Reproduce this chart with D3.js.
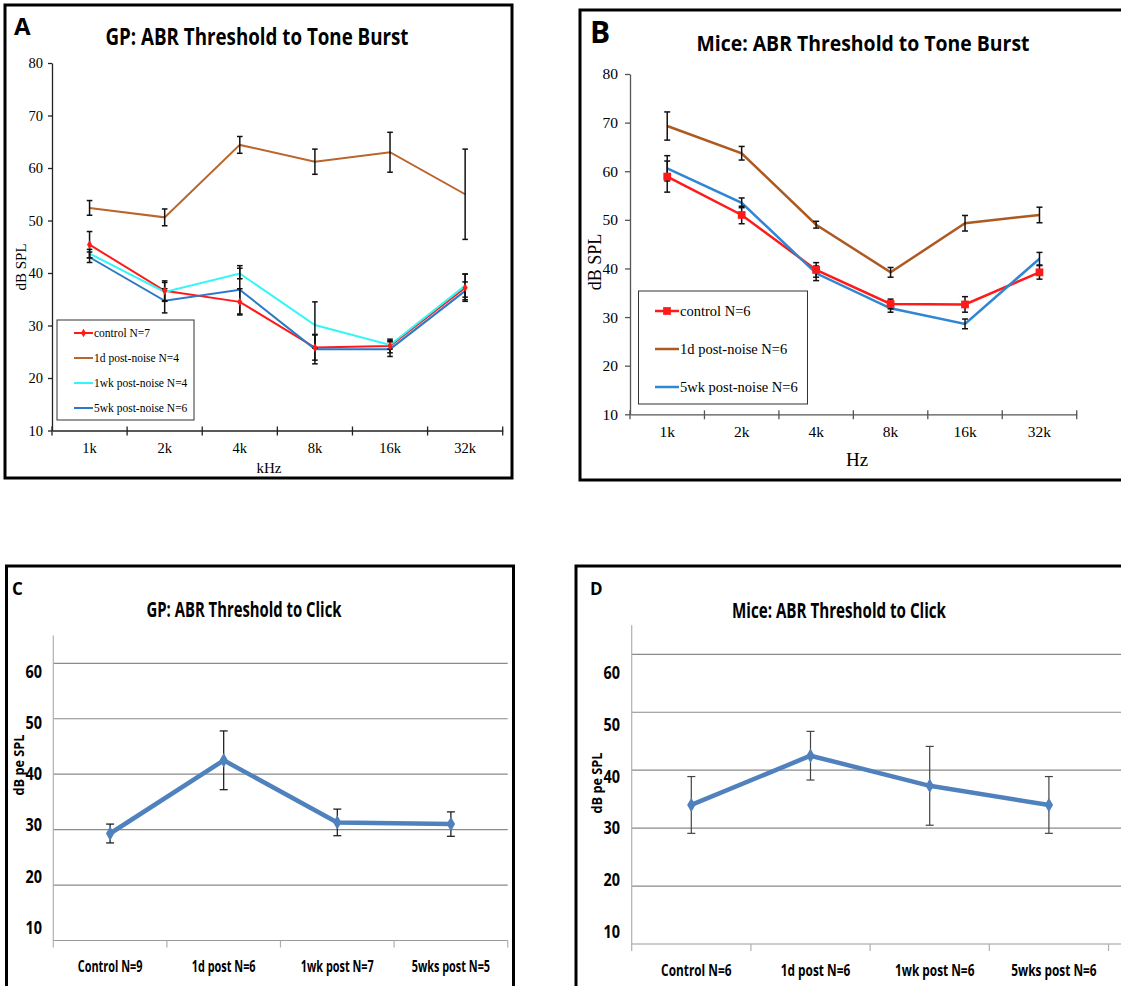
<!DOCTYPE html>
<html lang="en">
<head>
<meta charset="UTF-8" />
<script src="https://d3js.org/d3.v7.min.js"></script>
<title>ABR thresholds</title>
<style>
  body { margin: 0; background: #fff; }
  svg { display: block; }
</style>
</head>
<body>
<svg id="fig" width="1121" height="986"></svg>
<script>
// ---- data ----
const freqs = ['1k', '2k', '4k', '8k', '16k', '32k'];
const toneTicks = [10, 20, 30, 40, 50, 60, 70, 80];
const clickTicks = [10, 20, 30, 40, 50, 60];

// A: guinea pig, tone burst
const gpLabels = ['control N=7', '1d post-noise N=4', '1wk post-noise N=4', '5wk post-noise N=6'];
const gpControl = [45.4, 36.6, 34.5, 25.8, 26.1, 37.2];
const gpControlErr = [2.5, 1.9, 2.5, 2.4, 1.3, 2.6];
const gp1d = [52.4, 50.6, 64.4, 61.2, 63.0, 55.0];
const gp1dErr = [1.4, 1.6, 1.6, 2.4, 3.8, 8.6];
const gp1wk = [43.7, 36.4, 39.9, 30.1, 26.3, 37.6];
const gp1wkErr = [0.8, 1.8, 1.0, 4.4, 0.8, 2.2];
const gp5wk = [43.0, 34.7, 36.8, 25.5, 25.5, 36.6];
const gp5wkErr = [1.0, 2.3, 4.6, 2.8, 1.4, 1.7];

// B: mice, tone burst
const miceLabels = ['control N=6', '1d post-noise N=6', '5wk post-noise N=6'];
const miceControl = [58.9, 51.0, 39.7, 32.7, 32.6, 39.2];
const miceControlErr = [3.2, 1.8, 1.5, 1.0, 1.6, 1.4];
const mice1d = [69.3, 63.7, 49.0, 39.2, 49.3, 51.0];
const mice1dErr = [2.9, 1.4, 0.7, 1.0, 1.6, 1.6];
const mice5wk = [60.6, 53.5, 39.0, 31.8, 28.6, 42.0];
const mice5wkErr = [2.6, 1.0, 1.5, 0.8, 1.0, 1.3];

// C / D: click
const gpClickGroups = ['Control N=9', '1d post N=6', '1wk post N=7', '5wks post N=5'];
const gpClick = [29.3, 42.5, 31.3, 31.0];
const gpClickErr = [1.7, 5.3, 2.4, 2.2];
const miceClickGroups = ['Control N=6', '1d post  N=6', '1wk post N=6', '5wks post N=6'];
const miceClick = [34.0, 42.5, 37.3, 34.0];
const miceClickErr = [4.9, 4.2, 6.8, 4.9];

const sans = "'Open Sans', 'Noto Sans', sans-serif";
const serif = "'Liberation Serif', 'DejaVu Serif', serif";

const svg = d3.select('#fig');

function frame(f) {
  svg.append('rect')
    .attr('x', f.x).attr('y', f.y).attr('width', f.w).attr('height', f.h)
    .attr('fill', 'none').attr('stroke', '#000').attr('stroke-width', 3);
}

function heading(p) {
  svg.append('text')
    .attr('x', p.letterX).attr('y', p.letterY)
    .attr('font-family', sans).attr('font-weight', 700).attr('font-size', p.letterSize)
    .text(p.letter);
  svg.append('text')
    .attr('x', p.titleX).attr('y', p.titleY)
    .attr('text-anchor', 'middle')
    .attr('font-family', sans).attr('font-weight', 700).attr('font-size', p.titleSize)
    .attr('textLength', p.titleW).attr('lengthAdjust', 'spacingAndGlyphs')
    .text(p.title);
}

// squeeze a text horizontally, like the narrow face of the original
function narrow(sel, k) {
  sel.each(function () {
    const w = this.getComputedTextLength();
    d3.select(this).attr('textLength', w * k).attr('lengthAdjust', 'spacingAndGlyphs');
  });
}

const marker = {
  diamond: d3.symbol().type(d3.symbolDiamond),
  square: d3.symbol().type(d3.symbolSquare),
};

// ---- tone burst panels (A, B) ----
function tonePanel(p) {
  frame(p.frame);
  heading(p);

  const x = d3.scaleBand().domain(freqs).range([p.x0, p.x1]);
  const y = d3.scaleLinear().domain([10, 80]).range([p.yBot, p.yTop]);
  const cx = f => x(f) + x.bandwidth() / 2;
  const g = svg.append('g');

  const yAxisG = g.append('g')
    .attr('transform', `translate(${p.x0},0)`)
    .call(d3.axisLeft(y).tickValues(toneTicks).tickSize(p.tick).tickPadding(p.pad).tickSizeOuter(0));
  yAxisG.select('.domain').attr('stroke', p.axisColor).attr('stroke-width', 1.3);
  yAxisG.selectAll('.tick line').attr('stroke', p.axisColor).attr('stroke-width', 1.3);
  yAxisG.selectAll('.tick text')
    .attr('font-family', serif).attr('font-size', p.tickFont).attr('fill', '#000');

  const xAxisG = g.append('g')
    .attr('transform', `translate(0,${p.yBot})`)
    .call(d3.axisBottom(x).tickSize(0).tickPadding(p.xPad).tickSizeOuter(0));
  xAxisG.select('.domain').attr('stroke', p.axisColor).attr('stroke-width', 1.3);
  xAxisG.selectAll('.tick text')
    .attr('font-family', serif).attr('font-size', p.tickFont).attr('fill', '#000');

  // ticks on the category boundaries
  g.selectAll('line.bound').data(d3.range(freqs.length + 1)).join('line')
    .attr('class', 'bound')
    .attr('x1', i => p.x0 + i * x.step()).attr('x2', i => p.x0 + i * x.step())
    .attr('y1', p.yBot - 4).attr('y2', p.yBot + 5)
    .attr('stroke', p.axisColor).attr('stroke-width', 1.3);

  g.append('text')
    .attr('x', p.xLabelX).attr('y', p.xLabelY).attr('text-anchor', 'middle')
    .attr('font-family', serif).attr('font-size', p.xLabelFont)
    .text(p.xLabel);
  g.append('text')
    .attr('transform', `translate(${p.yLabelX},${p.yLabelY}) rotate(-90)`)
    .attr('text-anchor', 'middle')
    .attr('font-family', serif).attr('font-size', p.yLabelFont)
    .text('dB SPL');

  const line = d3.line().x((d, i) => cx(freqs[i])).y(d => y(d));

  p.series.forEach(s => {
    g.append('path').datum(s.values)
      .attr('d', line).attr('fill', 'none')
      .attr('stroke', s.color).attr('stroke-width', p.lineW);
  });

  // error bars
  p.series.forEach(s => {
    const eb = g.append('g');
    s.values.forEach((v, i) => {
      const xx = cx(freqs[i]);
      const e = s.err[i];
      eb.append('line').attr('x1', xx).attr('x2', xx)
        .attr('y1', y(v - e)).attr('y2', y(v + e))
        .attr('stroke', '#111').attr('stroke-width', 1.5);
      [v - e, v + e].forEach(c => {
        eb.append('line').attr('x1', xx - p.cap).attr('x2', xx + p.cap)
          .attr('y1', y(c)).attr('y2', y(c))
          .attr('stroke', '#111').attr('stroke-width', 1.5);
      });
    });
  });

  // markers
  p.series.forEach(s => {
    if (!s.marker) return;
    g.selectAll(null).data(s.values).join('path')
      .attr('d', marker[s.marker].size(s.size))
      .attr('transform', (d, i) => `translate(${cx(freqs[i])},${y(d)})`)
      .attr('fill', s.color);
  });

  // legend
  const L = p.legend;
  g.append('rect')
    .attr('x', L.x).attr('y', L.y).attr('width', L.w).attr('height', L.h)
    .attr('fill', '#fff').attr('stroke', '#333').attr('stroke-width', 1);
  p.series.forEach((s, i) => {
    const ly = L.y + L.first + i * L.gap;
    g.append('line')
      .attr('x1', L.lx0).attr('x2', L.lx1).attr('y1', ly).attr('y2', ly)
      .attr('stroke', s.color).attr('stroke-width', p.lineW);
    if (s.marker) {
      g.append('path').attr('d', marker[s.marker].size(s.size))
        .attr('transform', `translate(${(L.lx0 + L.lx1) / 2},${ly})`)
        .attr('fill', s.color);
    }
    g.append('text')
      .attr('x', L.lx1 + 1).attr('y', ly).attr('dy', '0.35em')
      .attr('font-family', serif).attr('font-size', L.font)
      .text(s.name);
  });
}

// ---- click panels (C, D) ----
function clickPanel(p) {
  frame(p.frame);
  heading(p);

  const x = d3.scaleBand().domain(p.groups).range([p.x0, p.x1]);
  const y = d3.scaleLinear().domain([10, 60]).range([p.yBot, p.y60]);
  // the printed tick numbers sit on their own, slightly shorter scale
  const yLab = d3.scaleLinear().domain([10, 60]).range([p.labBot, p.lab60]);
  const cx = d => x(d) + x.bandwidth() / 2;
  const g = svg.append('g');

  g.selectAll('line.grid').data(clickTicks.slice(1)).join('line')
    .attr('class', 'grid')
    .attr('x1', p.x0).attr('x2', p.gridRight)
    .attr('y1', d => y(d)).attr('y2', d => y(d))
    .attr('stroke', '#8a8a8a').attr('stroke-width', 1.2);

  g.append('line')
    .attr('x1', p.x0).attr('x2', p.x0).attr('y1', y(65)).attr('y2', y(10))
    .attr('stroke', '#b0b0b0').attr('stroke-width', 1.2);
  g.append('line')
    .attr('x1', p.x0).attr('x2', p.gridRight).attr('y1', y(10)).attr('y2', y(10))
    .attr('stroke', '#9a9a9a').attr('stroke-width', 1.2);
  g.selectAll('line.bound').data(d3.range(p.groups.length + 1)).join('line')
    .attr('class', 'bound')
    .attr('x1', i => p.x0 + i * x.step()).attr('x2', i => p.x0 + i * x.step())
    .attr('y1', y(10)).attr('y2', y(10) + 7)
    .attr('stroke', '#b0b0b0').attr('stroke-width', 1.2);

  g.selectAll('text.ytick').data(clickTicks).join('text')
    .attr('class', 'ytick')
    .attr('x', p.labX).attr('y', d => yLab(d)).attr('dy', '0.35em')
    .attr('text-anchor', 'end')
    .attr('font-family', sans).attr('font-weight', 700).attr('font-size', 17)
    .attr('textLength', 16.5).attr('lengthAdjust', 'spacingAndGlyphs')
    .text(d => d);

  const xt = g.selectAll('text.xtick').data(p.groups).join('text')
    .attr('class', 'xtick')
    .attr('x', d => cx(d) + p.xLabShift).attr('y', p.xLabY)
    .attr('text-anchor', 'middle')
    .attr('font-family', sans).attr('font-weight', 700).attr('font-size', 16)
    .text(d => d);
  narrow(xt, p.xLabK);

  const yl = g.append('text')
    .attr('transform', `translate(${p.yLabelX},${p.yLabelY}) rotate(-90)`)
    .attr('text-anchor', 'middle')
    .attr('font-family', sans).attr('font-weight', 700).attr('font-size', 15)
    .text('dB pe SPL');
  narrow(yl, 0.85);

  const line = d3.line().x((d, i) => cx(p.groups[i])).y(d => y(d));
  g.append('path').datum(p.values)
    .attr('d', line).attr('fill', 'none')
    .attr('stroke', '#4f81bd').attr('stroke-width', 4.5).attr('stroke-linejoin', 'round');

  p.values.forEach((v, i) => {
    const xx = cx(p.groups[i]);
    const e = p.err[i];
    g.append('line').attr('x1', xx).attr('x2', xx)
      .attr('y1', y(v - e)).attr('y2', y(v + e))
      .attr('stroke', p.errColor).attr('stroke-width', 1.2);
    [v - e, v + e].forEach(c => {
      g.append('line').attr('x1', xx - 4).attr('x2', xx + 4)
        .attr('y1', y(c)).attr('y2', y(c))
        .attr('stroke', p.errColor).attr('stroke-width', 1.2);
    });
  });

  g.selectAll('path.pt').data(p.values).join('path')
    .attr('class', 'pt')
    .attr('d', marker.diamond.size(60))
    .attr('transform', (d, i) => `translate(${cx(p.groups[i])},${y(d)})`)
    .attr('fill', '#4f81bd');
}

tonePanel({
  frame: { x: 5, y: 5, w: 507, h: 473 },
  letter: 'A', letterX: 14, letterY: 35, letterSize: 24,
  title: 'GP: ABR Threshold to Tone Burst', titleX: 257, titleY: 45, titleSize: 23, titleW: 303,
  x0: 52, x1: 502.7, yTop: 63, yBot: 430.5,
  tick: 4, pad: 5, xPad: 12, tickFont: 14.5, axisColor: '#222',
  xLabel: 'kHz', xLabelX: 269, xLabelY: 473, xLabelFont: 15,
  yLabelX: 26, yLabelY: 267, yLabelFont: 15,
  lineW: 2, cap: 2.8,
  series: [
    { name: gpLabels[0], values: gpControl, err: gpControlErr, color: '#ff1a1a', marker: 'diamond', size: 22 },
    { name: gpLabels[1], values: gp1d, err: gp1dErr, color: '#b9652b' },
    { name: gpLabels[2], values: gp1wk, err: gp1wkErr, color: '#33f6f6' },
    { name: gpLabels[3], values: gp5wk, err: gp5wkErr, color: '#2b78c6' },
  ],
  legend: { x: 57, y: 320, w: 137, h: 100, first: 13, gap: 25, lx0: 74, lx1: 93, font: 11.5 },
});

tonePanel({
  frame: { x: 580, y: 10, w: 560, h: 470 },
  letter: 'B', letterX: 590, letterY: 43, letterSize: 30,
  title: 'Mice: ABR Threshold to Tone Burst', titleX: 863, titleY: 51, titleSize: 22, titleW: 333,
  x0: 630, x1: 1076.7, yTop: 74, yBot: 414.3,
  tick: 5, pad: 7, xPad: 12, tickFont: 15.5, axisColor: '#555',
  xLabel: 'Hz', xLabelX: 857, xLabelY: 466, xLabelFont: 19,
  yLabelX: 601, yLabelY: 262, yLabelFont: 18,
  lineW: 2.5, cap: 3,
  series: [
    { name: miceLabels[0], values: miceControl, err: miceControlErr, color: '#ff1a1a', marker: 'square', size: 60 },
    { name: miceLabels[1], values: mice1d, err: mice1dErr, color: '#ad5a22' },
    { name: miceLabels[2], values: mice5wk, err: mice5wkErr, color: '#2f86d2' },
  ],
  legend: { x: 638.5, y: 291, w: 169, h: 113, first: 20, gap: 38, lx0: 655, lx1: 679, font: 14.5 },
});

clickPanel({
  frame: { x: 6.5, y: 566, w: 507, h: 440 },
  letter: 'C', letterX: 12, letterY: 595, letterSize: 17,
  title: 'GP: ABR Threshold to Click', titleX: 244, titleY: 617, titleSize: 21, titleW: 195,
  groups: gpClickGroups, values: gpClick, err: gpClickErr,
  x0: 53.3, x1: 507.7, gridRight: 507.7, yBot: 940.5, y60: 663.3,
  labBot: 928, lab60: 671.7, labX: 42,
  xLabY: 972, xLabShift: 0, xLabK: 0.68,
  yLabelX: 24, yLabelY: 765, errColor: '#111',
});

clickPanel({
  frame: { x: 576, y: 566, w: 560, h: 440 },
  letter: 'D', letterX: 590, letterY: 595, letterSize: 17,
  title: 'Mice: ABR Threshold to Click', titleX: 839, titleY: 618, titleSize: 21, titleW: 214,
  groups: miceClickGroups, values: miceClick, err: miceClickErr,
  x0: 631.7, x1: 1108.5, gridRight: 1121, yBot: 944, y60: 654.3,
  labBot: 931.7, lab60: 673.3, labX: 620,
  xLabY: 976, xLabShift: 5, xLabK: 0.74,
  yLabelX: 602, yLabelY: 783, errColor: '#444',
});
</script>
</body>
</html>
